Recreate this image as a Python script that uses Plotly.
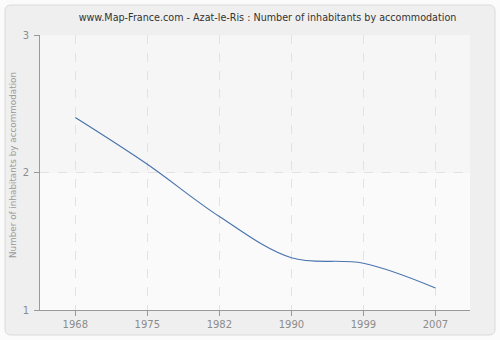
import plotly.graph_objects as go

# Census years and average number of inhabitants per accommodation
years = ["1968", "1975", "1982", "1990", "1999", "2007"]
inhabitants = [2.40, 2.06, 1.68, 1.38, 1.34, 1.16]

y_ticks = [1, 2, 3]

W, H = 500, 340
L, R, T, B = 40, 30, 35, 30
pw, ph = W - L - R, H - T - B


def px_to_paper_x(px):
    return (px - L) / pw


def px_to_paper_y(py):
    return (H - B - py) / ph


def rounded_rect(x0, y0, x1, y1, r):
    # rounded rectangle path in paper coordinates, given pixel corners
    rx, ry = r / pw, r / ph
    a, b = px_to_paper_x(x0), px_to_paper_x(x1)
    top, bot = px_to_paper_y(y0), px_to_paper_y(y1)
    return (
        f"M {a + rx},{top} L {b - rx},{top} Q {b},{top} {b},{top - ry} "
        f"L {b},{bot + ry} Q {b},{bot} {b - rx},{bot} "
        f"L {a + rx},{bot} Q {a},{bot} {a},{bot + ry} "
        f"L {a},{top - ry} Q {a},{top} {a + rx},{top} Z"
    )


fig = go.Figure()
fig.add_trace(
    go.Scatter(
        x=years,
        y=inhabitants,
        mode="lines",
        line=dict(color="#4a74ad", width=1.2, shape="spline", smoothing=1.0),
        hoverinfo="x+y",
        showlegend=False,
    )
)

shapes = [
    # outer frame
    dict(type="path", xref="paper", yref="paper", layer="below",
         path=rounded_rect(5, 5, 495, 335, 6),
         fillcolor="#efefef", line=dict(color="#dadada", width=1)),
    # plot area, upper band
    dict(type="rect", xref="paper", yref="y", layer="below",
         x0=0, x1=1, y0=2, y1=3, fillcolor="#f6f6f6", line=dict(width=0)),
    # plot area, lower band
    dict(type="rect", xref="paper", yref="y", layer="below",
         x0=0, x1=1, y0=1, y1=2, fillcolor="#fafafa", line=dict(width=0)),
]

axis_common = dict(
    showgrid=True,
    gridcolor="#e2e2e2",
    griddash="dash",
    gridwidth=1,
    showline=True,
    linecolor="#999999",
    linewidth=1,
    ticks="outside",
    ticklen=5,
    tickcolor="#999999",
    tickfont=dict(size=10, color="#8c8c8c"),
    zeroline=False,
    automargin=False,
    fixedrange=True,
)

fig.update_layout(
    width=W,
    height=H,
    margin=dict(l=L, r=R, t=T, b=B, autoexpand=False),
    paper_bgcolor="#fbfbfb",
    plot_bgcolor="rgba(0,0,0,0)",
    shapes=shapes,
    title=dict(
        text="www.Map-France.com - Azat-le-Ris : Number of inhabitants by accommodation",
        x=0.535, xanchor="center", y=1 - 18 / H, yanchor="middle",
        font=dict(family="DejaVu Sans", size=9.6, color="#333333"),
    ),
    font=dict(family="DejaVu Sans", size=10, color="#999999"),
    xaxis=dict(type="category", range=[-0.49, 5.48], **axis_common),
    yaxis=dict(
        range=[1, 3],
        tickvals=y_ticks,
        ticktext=[str(v) for v in y_ticks],
        ticklabelstandoff=3,
        **axis_common,
    ),
    annotations=[
        dict(
            text="Number of inhabitants by accommodation",
            xref="paper", yref="paper",
            x=px_to_paper_x(13), y=px_to_paper_y(165),
            xanchor="center", yanchor="middle",
            textangle=-90, showarrow=False,
            font=dict(family="DejaVu Sans", size=8.8, color="#999999"),
        )
    ],
)

fig.write_html("out.html", config=dict(displayModeBar=False))
